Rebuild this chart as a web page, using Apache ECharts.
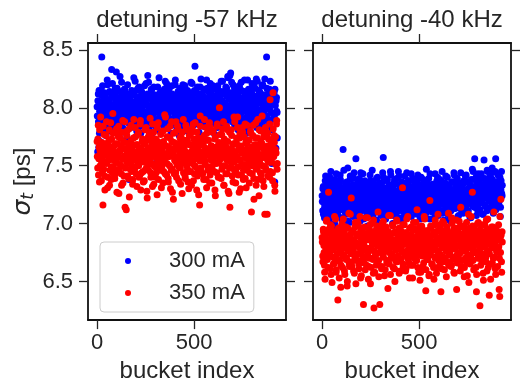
<!DOCTYPE html>
<html><head><meta charset="utf-8">
<script src="https://cdn.jsdelivr.net/npm/echarts@6/dist/echarts.min.js"></script>
<style>html,body{margin:0;padding:0;background:#fff}#c{width:522px;height:388px}</style>
</head><body><div id="c"></div>
<script>
const buckets = [0,3,6,9,12,15,18,21,24,27,30,33,36,39,42,45,48,51,54,57,60,63,66,69,72,75,78,81,84,87,90,93,96,99,102,105,108,111,114,117,120,123,126,129,132,135,138,141,144,147,150,153,156,159,162,165,168,171,174,177,180,183,186,189,192,195,198,201,204,207,210,213,216,219,222,225,228,231,234,237,240,243,246,249,252,255,258,261,264,267,270,273,276,279,282,285,288,291,294,297,300,303,306,309,312,315,318,321,324,327,330,333,336,339,342,345,348,351,354,357,360,363,366,369,372,375,378,381,384,387,390,393,396,399,402,405,408,411,414,417,420,423,426,429,432,435,438,441,444,447,450,453,456,459,462,465,468,471,474,477,480,483,486,489,492,495,498,501,504,507,510,513,516,519,522,525,528,531,534,537,540,543,546,549,552,555,558,561,564,567,570,573,576,579,582,585,588,591,594,597,600,603,606,609,612,615,618,621,624,627,630,633,636,639,642,645,648,651,654,657,660,663,666,669,672,675,678,681,684,687,690,693,696,699,702,705,708,711,714,717,720,723,726,729,732,735,738,741,744,747,750,753,756,759,762,765,768,771,774,777,780,783,786,789,792,795,798,801,804,807,810,813,816,819,822,825,828,831,834,837,840,843,846,849,852,855,858,861,864,867,870,873,876,879,882,885,888,891,894,897,900,903,906,909,912,915,918,921,924,927];
const bucketsB = [1,4,7,10,13,16,19,22,25,28,31,34,37,40,43,46,49,52,55,58,61,64,67,70,73,76,79,82,85,88,91,94,97,100,103,106,109,112,115,118,121,124,127,130,133,136,139,142,145,148,151,154,157,160,163,166,169,172,175,178,181,184,187,190,193,196,199,202,205,208,211,214,217,220,223,226,229,232,235,238,241,244,247,250,253,256,259,262,265,268,271,274,277,280,283,286,289,292,295,298,301,304,307,310,313,316,319,322,325,328,331,334,337,340,343,346,349,352,355,358,361,364,367,370,373,376,379,382,385,388,391,394,397,400,403,406,409,412,415,418,421,424,427,430,433,436,439,442,445,448,451,454,457,460,463,466,469,472,475,478,481,484,487,490,493,496,499,502,505,508,511,514,517,520,523,526,529,532,535,538,541,544,547,550,553,556,559,562,565,568,571,574,577,580,583,586,589,592,595,598,601,604,607,610,613,616,619,622,625,628,631,634,637,640,643,646,649,652,655,658,661,664,667,670,673,676,679,682,685,688,691,694,697,700,703,706,709,712,715,718,721,724,727,730,733,736,739,742,745,748,751,754,757,760,763,766,769,772,775,778,781,784,787,790,793,796,799,802,805,808,811,814,817,820,823,826,829,832,835,838,841,844,847,850,853,856,859,862,865,868,871,874,877,880,883,886,889,892,895,898,901,904,907,910,913,916,919,922,925,928];

// detuning -57 kHz, 300 mA (buckets, bucketsB)
const sigma300Left = [8.01,7.62,8.12,7.66,7.78,7.71,7.92,8.15,8.44,7.87,
7.99,8.08,7.83,7.94,8.11,7.76,8.03,7.97,8.20,7.90,
7.85,8.06,7.99,8.13,7.81,8.33,7.96,7.88,8.09,8.02,
7.93,8.17,7.84,8.31,8.00,7.91,8.07,7.79,8.14,7.98,
7.86,8.03,8.22,7.95,8.10,7.82,7.99,8.16,7.90,8.05,
7.97,7.74,8.12,8.01,7.88,7.38,7.95,8.07,7.83,8.00,
8.11,7.92,7.98,8.26,7.86,8.04,7.93,8.15,7.80,8.08,
7.99,7.87,8.18,7.94,8.06,7.78,8.01,8.12,7.90,7.97,
8.05,7.84,8.10,7.96,8.21,7.89,8.02,8.28,7.93,7.81,
8.08,7.98,7.87,8.16,8.01,7.74,7.95,8.11,7.90,8.04,
7.52,8.09,7.83,8.00,8.18,7.96,7.87,8.06,8.13,7.79,
8.02,7.91,8.14,7.97,7.85,8.08,7.99,8.23,7.88,7.95,
8.11,7.83,8.03,7.96,8.17,7.90,8.06,7.78,8.00,8.12,
7.87,7.98,8.09,7.93,8.20,8.01,7.84,8.07,7.95,8.14,
7.99,7.76,8.05,8.11,7.89,7.97,8.16,8.02,7.83,8.08,
7.94,8.19,8.00,7.87,8.06,7.92,8.13,7.81,7.98,8.03,
8.10,7.89,7.96,8.21,7.85,8.04,7.99,8.15,8.36,7.91,
8.02,8.13,7.86,7.97,8.08,7.79,8.00,8.18,7.93,8.06,
7.88,8.11,7.99,7.84,8.16,7.95,8.03,7.90,8.24,8.07,
7.97,7.82,8.09,8.01,7.92,8.14,7.86,8.05,7.98,8.19,
7.91,8.03,7.77,8.10,7.96,8.08,7.85,8.17,8.00,7.94,
8.12,7.89,8.01,8.23,7.95,8.06,7.83,7.99,8.14,7.92,
8.04,8.18,7.87,8.10,7.97,8.26,8.01,7.91,8.28,8.08,
7.95,8.22,8.06,7.88,8.13,7.99,8.17,7.84,8.03,8.11,
7.96,8.09,7.81,8.02,8.19,7.93,8.07,7.89,8.15,8.00,
7.86,8.05,7.98,8.24,7.91,8.11,8.03,7.78,8.09,7.97,
8.16,7.90,8.04,7.99,7.85,8.12,8.21,7.94,8.06,7.88,
8.01,8.17,7.92,8.09,7.83,8.23,7.98,8.05,7.90,8.14,
7.96,8.08,7.87,8.19,8.02,7.80,8.11,7.97,8.25,7.93,
8.06,8.44,7.91,8.12,7.99,7.84,8.16,8.03,7.89,8.10,
7.52,7.81,8.07,7.95,8.13,7.36,8.02,7.65,8.09,7.96];
const sigma300LeftB = [7.93,8.06,7.88,8.15,7.97,8.02,7.84,8.11,7.95,8.19,
8.04,7.90,8.13,7.82,8.00,8.08,7.93,8.24,7.87,8.05,
7.98,8.14,7.80,8.03,7.92,8.10,8.21,7.86,8.01,7.95,
8.12,7.89,8.06,7.99,8.17,7.83,8.04,7.94,8.09,8.27,
7.91,8.02,7.85,8.13,7.97,8.07,7.79,8.16,8.00,7.92,
8.08,7.96,8.20,7.87,8.03,7.94,8.11,7.84,8.05,8.15,
7.90,8.01,7.98,8.12,7.86,8.23,7.95,8.06,7.92,8.09,
8.17,7.83,8.02,7.97,8.10,7.89,8.14,7.99,8.04,7.88,
7.96,8.19,7.91,8.07,7.82,8.03,8.12,7.94,8.22,8.00,
7.87,8.09,7.98,8.15,7.93,8.05,7.85,8.18,8.01,7.96,
8.11,7.90,8.04,7.81,8.08,7.97,8.26,7.92,8.02,8.13,
7.99,7.86,8.10,8.03,7.94,8.16,7.88,8.06,7.95,8.21,
8.01,7.93,8.14,7.84,8.07,7.98,8.11,7.90,8.19,8.04,
7.97,8.09,7.87,8.02,8.24,7.92,8.05,7.99,7.83,8.12,
8.06,7.95,8.17,7.89,8.00,8.10,7.94,8.20,7.86,8.03,
7.98,8.13,7.91,8.08,7.80,8.15,8.02,7.96,8.09,7.88,
8.04,8.22,7.93,8.01,8.11,7.85,8.07,7.97,8.14,8.00,
7.92,8.06,8.18,7.87,8.03,7.99,8.12,7.94,8.25,8.05,
7.89,8.10,7.96,8.15,7.84,8.02,8.08,7.91,8.00,8.17,
8.07,7.95,8.13,7.90,8.21,7.98,8.04,7.86,8.10,7.93,
8.01,8.16,7.88,8.05,7.97,8.11,7.83,8.19,8.03,7.92,
8.09,7.99,8.14,7.85,8.06,8.23,7.94,8.02,8.12,7.96,
8.04,7.89,8.17,8.00,8.27,7.93,8.08,7.97,8.13,8.30,
7.91,8.05,7.98,8.20,7.87,8.10,8.01,7.95,8.15,8.07,
7.99,8.12,7.84,8.03,8.18,7.92,8.06,8.22,7.96,8.09,
8.02,7.88,8.14,7.97,8.05,7.83,8.11,8.00,8.24,7.94,
8.08,7.99,8.16,7.90,8.03,8.13,7.86,8.07,7.95,8.19,
7.93,8.10,8.01,8.25,7.97,8.04,7.89,8.15,8.06,7.92,
8.12,7.98,8.07,7.85,8.20,8.02,7.94,8.11,7.90,8.05,
8.00,8.17,7.93,8.09,7.87,8.14,7.99,8.23,8.03,7.96,
7.70,8.10,7.58,8.04,7.92,8.16,7.62,8.06,7.97,7.74];

// detuning -57 kHz, 350 mA
const sigma350Left = [7.71,7.48,7.85,7.56,7.36,7.63,7.92,7.51,7.68,7.44,
7.16,7.59,7.77,7.41,7.66,7.53,7.88,7.62,7.31,7.70,
7.55,7.81,7.46,7.64,7.38,7.73,7.58,7.95,7.49,7.67,
7.42,7.61,7.79,7.53,7.27,7.69,7.57,7.84,7.45,7.62,
7.74,7.50,7.33,7.65,7.89,7.56,7.41,7.70,7.14,7.59,
7.12,7.76,7.52,7.63,7.39,7.82,7.60,7.47,7.71,7.55,
7.66,7.34,7.58,7.90,7.49,7.62,7.75,7.43,7.57,7.68,
7.52,7.79,7.40,7.61,7.86,7.29,7.64,7.54,7.73,7.45,
7.60,7.37,7.69,7.56,7.83,7.48,7.22,7.65,7.75,7.51,
7.63,7.91,7.44,7.58,7.70,7.32,7.61,7.79,7.50,7.66,
7.40,7.57,7.72,7.25,7.64,7.87,7.53,7.69,7.46,7.60,
7.78,7.49,7.62,7.35,7.71,7.56,7.94,7.43,7.60,7.67,
7.52,7.82,7.39,7.65,7.58,7.74,7.30,7.63,7.88,7.47,
7.61,7.21,7.70,7.55,7.79,7.44,7.66,7.51,7.84,7.58,
7.37,7.69,7.62,7.48,7.75,7.57,7.26,7.64,7.90,7.53,
7.67,7.41,7.60,7.81,7.50,7.72,7.36,7.59,7.45,7.68,
7.56,7.78,7.33,7.63,7.52,7.86,7.61,7.43,7.70,7.49,
7.65,7.29,7.57,7.74,7.46,7.62,7.16,7.93,7.58,7.71,
7.44,7.68,7.59,7.38,7.76,7.54,7.64,7.83,7.31,7.60,
7.72,7.49,7.62,7.87,7.42,7.58,7.67,7.35,7.79,7.55,
7.61,7.45,7.73,7.24,7.66,7.52,7.84,7.59,7.40,7.69,
8.00,7.56,7.64,7.39,7.77,7.50,7.62,7.88,7.33,7.58,
7.71,7.43,7.66,7.55,7.81,7.28,7.63,7.48,7.14,7.60,
7.53,7.76,7.41,7.68,7.57,7.92,7.46,7.62,7.35,7.70,
7.58,7.83,7.49,7.64,7.27,7.74,7.55,7.67,7.42,7.61,
7.79,7.38,7.62,7.51,7.86,7.57,7.31,7.69,7.46,7.63,
7.54,7.72,7.44,7.60,7.78,7.10,7.65,7.50,7.85,7.39,
7.63,7.56,7.74,7.33,7.68,7.48,7.90,7.59,7.24,7.66,
7.51,7.80,7.42,7.69,7.57,7.37,7.75,7.61,7.08,7.83,
7.46,7.66,7.08,7.78,7.53,7.63,7.40,8.07,7.72,7.55,
7.68,7.44,8.13,7.59,7.76,7.33,7.64,7.51,7.86,7.47];
const sigma350LeftB = [7.58,7.73,7.42,7.66,7.81,7.50,7.62,7.37,7.70,7.55,
7.84,7.47,7.64,7.29,7.59,7.76,7.52,7.68,7.40,7.61,
7.72,7.33,7.57,7.87,7.49,7.65,7.44,7.78,7.55,7.62,
7.39,7.69,7.53,7.82,7.46,7.60,7.75,7.26,7.63,7.51,
7.67,7.43,7.79,7.56,7.35,7.71,7.58,7.88,7.48,7.64,
7.54,7.80,7.41,7.66,7.57,7.23,7.70,7.52,7.85,7.45,
7.62,7.38,7.74,7.59,7.47,7.83,7.55,7.68,7.32,7.61,
7.77,7.50,7.65,7.42,7.89,7.57,7.44,7.71,7.60,7.36,
7.69,7.53,7.81,7.47,7.63,7.28,7.72,7.58,7.46,7.79,
7.56,7.66,7.40,7.74,7.52,7.86,7.61,7.34,7.67,7.49,
7.73,7.44,7.59,7.83,7.55,7.38,7.70,7.63,7.48,7.77,
7.31,7.64,7.57,7.80,7.45,7.68,7.53,7.92,7.60,7.42,
7.75,7.58,7.36,7.66,7.50,7.84,7.62,7.46,7.71,7.27,
7.59,7.78,7.43,7.65,7.54,7.88,7.40,7.69,7.56,7.81,
7.49,7.62,7.74,7.34,7.67,7.52,7.79,7.58,7.44,7.72,
7.63,7.39,7.85,7.55,7.70,7.47,7.61,7.30,7.76,7.57,
7.45,7.68,7.53,7.82,7.60,7.37,7.73,7.50,7.87,7.64,
7.56,7.79,7.41,7.66,7.25,7.71,7.54,7.84,7.48,7.62,
7.74,7.43,7.69,7.57,7.90,7.51,7.65,7.38,7.78,7.59,
7.46,7.72,7.61,7.35,7.83,7.55,7.67,7.49,7.63,7.80,
7.52,7.64,7.29,7.75,7.58,7.44,7.86,7.61,7.53,7.70,
7.40,7.77,7.56,7.68,7.47,7.82,7.59,7.33,7.73,7.62,
7.50,7.66,7.84,7.43,7.71,7.57,7.26,7.79,7.55,7.64,
7.81,7.48,7.63,7.36,7.69,7.53,7.88,7.60,7.45,7.74,
7.58,7.92,7.42,7.67,7.55,7.78,7.30,7.65,7.51,7.83,
7.62,7.46,7.75,7.57,7.39,7.70,7.64,7.85,7.49,7.59,
7.72,7.35,7.61,7.80,7.54,7.66,7.43,7.76,7.58,7.21,
7.68,7.52,7.87,7.47,7.63,7.74,7.38,7.60,7.81,7.55,
7.44,7.71,7.57,7.93,7.50,7.65,7.32,7.78,7.62,7.48,
7.79,7.56,7.67,7.41,7.73,7.59,7.86,7.45,7.64,7.53,
7.66,7.37,7.82,7.58,7.70,7.28,7.75,7.61,7.89,7.52];

// detuning -40 kHz, 300 mA
const sigma300Right = [7.24,7.11,7.32,7.18,7.05,7.27,7.41,7.15,7.22,7.09,
7.36,7.19,7.02,7.28,7.14,7.45,7.21,7.08,7.31,7.17,
7.25,6.97,7.38,7.16,7.23,7.10,7.33,7.20,7.06,7.29,
7.13,7.42,7.19,7.26,7.03,7.31,7.64,7.17,7.24,7.12,
7.35,7.21,7.08,7.29,7.48,7.15,7.23,7.01,7.38,7.19,
7.27,7.14,7.33,7.06,7.20,7.44,7.12,7.28,7.56,7.18,
7.09,7.30,7.23,7.16,7.39,7.02,7.25,7.34,7.11,7.21,
7.43,7.17,7.28,7.05,7.22,7.36,7.13,7.27,6.98,7.31,
7.19,7.26,7.10,7.37,7.24,7.15,7.46,7.20,7.08,7.29,
7.14,7.32,7.21,7.03,7.27,7.40,7.16,7.23,7.11,7.35,
7.22,7.07,7.29,7.18,7.44,7.57,7.13,7.26,7.20,7.04,
7.31,7.17,7.38,7.09,7.24,7.15,7.33,7.22,7.42,7.12,
7.26,7.00,7.19,7.35,7.14,7.28,7.21,7.08,7.39,7.17,
7.23,7.45,7.11,7.29,7.16,7.34,7.05,7.25,7.19,7.30,
7.12,7.27,7.41,7.18,7.06,7.32,7.22,7.15,7.37,7.09,
7.28,7.20,7.13,7.43,7.24,6.82,7.31,7.17,7.26,7.36,
7.14,7.29,7.21,7.08,7.38,7.19,7.25,7.11,7.33,7.16,
7.40,7.22,7.06,7.27,7.18,7.35,7.12,7.30,7.21,7.47,
7.10,7.26,7.17,7.39,7.23,7.04,7.32,7.16,7.28,7.13,
7.34,7.19,7.25,7.09,7.43,7.21,7.14,7.37,7.20,7.07,
7.29,7.16,7.38,7.24,7.11,7.31,7.45,7.18,7.26,7.03,
7.22,7.35,7.13,7.28,7.19,7.40,7.08,7.24,7.33,7.15,
7.27,7.02,7.20,7.36,7.14,7.29,7.22,7.42,6.88,7.31,
7.18,7.25,7.39,7.06,7.23,7.16,7.33,7.20,7.44,7.12,
7.30,7.21,7.09,7.35,7.24,7.17,7.41,7.13,7.27,7.19,
7.36,7.11,7.26,7.20,7.05,7.32,7.18,7.28,7.47,7.15,
7.23,7.38,7.56,7.14,7.29,7.07,7.34,7.21,7.43,7.17,
7.30,7.12,7.25,7.40,7.19,7.33,7.08,7.27,7.55,7.22,
7.16,7.37,7.24,7.11,7.45,7.29,7.20,7.34,7.13,7.41,
7.26,7.18,7.48,7.31,7.09,7.36,7.23,7.45,7.56,7.20,
7.33,7.14,7.42,7.27,7.19,7.38,7.06,7.29,7.45,7.24];
const sigma300RightB = [7.19,7.30,7.08,7.25,7.14,7.37,7.22,7.03,7.28,7.16,
7.33,7.11,7.24,7.40,7.18,7.06,7.29,7.21,7.35,7.13,
7.26,7.00,7.31,7.17,7.43,7.23,7.09,7.27,7.15,7.34,
7.20,7.38,7.12,7.25,7.05,7.30,7.18,7.46,7.22,7.10,
7.28,7.15,7.36,7.21,7.02,7.32,7.19,7.26,7.41,7.13,
7.24,7.08,7.30,7.17,7.39,7.23,7.11,7.33,7.20,7.27,
7.14,7.35,7.06,7.22,7.29,7.18,7.44,7.25,7.12,7.31,
7.21,7.04,7.27,7.37,7.16,7.32,7.23,7.09,7.28,7.19,
7.34,7.14,7.42,7.24,7.07,7.30,7.20,7.36,7.15,7.26,
7.11,7.29,7.22,7.39,7.17,7.33,7.01,7.25,7.19,7.31,
7.27,7.13,7.35,7.21,7.09,7.40,7.23,7.16,7.30,7.05,
7.24,7.37,7.18,7.28,7.12,7.33,7.22,7.45,7.15,7.26,
7.20,7.32,7.07,7.29,7.38,7.17,7.25,7.10,7.34,7.21,
7.14,7.28,7.41,7.19,7.31,7.03,7.24,7.36,7.16,7.27,
7.33,7.09,7.22,7.30,7.18,7.44,7.13,7.26,7.20,7.37,
7.25,7.15,7.32,7.06,7.28,7.21,7.39,7.17,7.29,7.11,
7.23,7.35,7.19,7.27,7.42,7.12,7.31,7.22,7.04,7.26,
7.18,7.30,7.14,7.38,7.24,7.20,7.33,7.08,7.27,7.16,
7.36,7.22,7.29,7.13,7.25,7.43,7.17,7.31,7.21,7.10,
7.28,7.19,7.34,7.23,7.06,7.30,7.15,7.27,7.40,7.20,
7.12,7.33,7.24,7.18,7.37,7.26,7.09,7.29,7.21,7.35,
7.16,7.28,7.41,7.22,7.14,7.32,7.25,7.03,7.30,7.19,
7.27,7.11,7.36,7.23,7.29,7.17,7.44,7.21,7.13,7.34,
7.24,7.39,7.15,7.28,7.07,7.31,7.22,7.35,7.18,7.26,
7.33,7.20,7.12,7.37,7.25,7.29,7.16,7.42,7.23,7.10,
7.30,7.17,7.26,7.34,7.21,7.05,7.38,7.24,7.28,7.45,
7.19,7.32,7.14,7.27,7.40,7.22,7.35,7.11,7.29,7.24,
7.36,7.18,7.31,7.43,7.20,7.27,7.08,7.33,7.25,7.39,
7.15,7.30,7.22,7.46,7.28,7.13,7.35,7.26,7.41,7.19,
7.32,7.24,7.38,7.16,7.45,7.29,7.21,7.34,7.12,7.36,
7.27,7.43,7.18,7.31,7.23,7.40,7.14,7.37,7.26,7.33];

// detuning -40 kHz, 350 mA
const sigma350Right = [6.88,6.72,6.95,6.81,6.64,6.52,6.90,6.77,7.03,6.69,
6.84,7.27,6.75,6.92,6.61,6.80,6.98,6.49,6.86,6.71,
6.93,6.66,6.79,7.04,6.58,6.87,6.74,6.34,6.96,6.83,
6.68,6.89,6.45,6.77,7.00,6.62,6.85,6.73,6.94,6.56,
6.81,6.97,6.70,6.46,6.88,6.76,7.09,6.63,6.84,6.91,
7.22,6.67,6.79,6.94,6.59,6.86,6.72,7.01,6.48,6.83,
6.90,6.74,6.99,6.65,6.81,7.06,6.53,6.87,6.76,6.93,
6.69,6.30,6.84,6.97,6.60,6.79,6.91,6.71,7.05,6.86,
6.63,6.95,6.78,6.48,6.89,7.00,6.70,6.83,6.57,6.27,
6.92,6.75,6.87,6.64,6.98,6.81,7.10,6.68,6.85,6.30,
6.79,6.94,6.61,6.88,6.73,7.02,6.84,6.55,6.91,6.77,
6.97,6.66,6.82,6.44,6.93,6.75,6.89,7.07,6.70,6.86,
6.74,6.99,6.62,6.85,6.80,6.50,6.92,6.77,7.03,6.67,
6.88,6.71,6.96,6.83,6.59,6.94,6.78,6.90,7.31,6.65,
6.82,6.99,6.73,6.87,6.61,6.92,6.76,7.06,6.69,6.84,
6.53,6.90,6.79,6.97,6.72,6.86,6.64,7.01,6.81,6.74,
6.95,6.68,6.83,7.12,6.77,6.89,6.58,6.93,6.51,6.80,
6.76,6.98,6.85,6.63,6.91,6.72,7.04,6.82,6.42,6.87,
6.69,6.94,6.78,6.88,6.56,7.20,6.73,6.96,6.84,6.65,
6.90,6.77,6.52,6.99,6.81,6.70,6.93,6.86,6.62,7.08,
6.83,6.74,6.96,6.66,6.41,6.89,6.79,7.02,6.71,6.88,
6.60,6.94,6.81,6.76,6.97,6.67,6.85,7.09,6.73,6.91,
6.78,6.89,6.64,7.00,6.83,6.71,6.95,6.57,6.86,6.80,
7.03,6.43,6.92,6.75,6.88,6.69,6.97,6.82,7.14,6.63,
6.87,6.76,6.98,6.81,6.54,6.93,6.70,6.85,7.01,6.66,
6.90,6.79,6.49,6.96,6.84,6.72,7.06,6.88,7.27,6.68,
6.81,6.97,6.75,6.91,6.62,6.41,6.86,7.00,6.73,6.89,
6.77,6.29,6.94,6.83,6.68,6.99,6.80,6.51,6.92,6.74,
6.88,6.71,7.03,6.59,6.84,6.95,6.76,6.38,6.90,6.82,
6.65,6.97,6.79,6.86,6.70,7.10,6.83,6.94,6.56,6.88,
6.75,6.91,6.80,6.99,6.43,6.37,6.86,7.21,6.67,6.93];
const sigma350RightB = [6.84,6.67,6.93,6.75,6.58,6.88,6.79,7.02,6.70,6.86,
6.62,6.95,6.81,6.73,6.99,6.56,6.87,6.77,6.91,6.65,
6.83,7.06,6.71,6.89,6.60,6.80,6.94,6.68,6.85,6.53,
6.92,6.76,6.64,6.98,6.82,6.72,7.04,6.87,6.59,6.79,
6.90,6.69,6.84,6.50,6.96,6.78,6.66,6.88,7.08,6.74,
6.81,6.63,6.93,6.77,6.86,6.57,6.97,6.70,6.83,6.91,
6.68,7.01,6.80,6.61,6.89,6.75,6.94,6.55,6.85,6.72,
6.96,6.82,6.66,6.90,6.78,7.05,6.64,6.87,6.74,6.52,
6.88,6.70,6.99,6.79,6.62,6.93,6.83,6.69,7.03,6.76,
6.58,6.86,6.73,6.95,6.81,6.67,6.90,6.54,6.84,6.97,
6.75,6.89,6.63,7.00,6.79,6.71,6.92,6.85,6.60,6.82,
6.94,6.68,6.87,6.77,7.07,6.65,6.83,6.56,6.91,6.74,
6.80,6.98,6.70,6.86,6.61,6.93,6.78,6.67,7.02,6.84,
6.72,6.89,6.57,6.95,6.81,6.69,6.88,6.76,6.99,6.63,
6.85,6.74,6.92,6.59,6.83,7.04,6.71,6.87,6.78,6.66,
6.96,6.80,6.64,6.90,6.75,6.53,6.94,6.82,6.70,6.88,
6.77,7.01,6.68,6.85,6.62,6.91,6.79,6.73,6.97,6.58,
6.86,6.72,6.95,6.81,6.66,7.06,6.76,6.89,6.60,6.84,
6.93,6.69,6.80,6.55,6.87,6.74,6.98,6.83,6.65,6.90,
6.78,6.62,6.92,6.71,7.03,6.85,6.57,6.88,6.76,6.94,
6.68,6.82,6.99,6.73,6.86,6.61,6.91,6.79,6.67,7.00,
6.84,6.70,6.89,6.54,6.95,6.77,6.83,6.64,6.92,6.75,
6.87,6.63,7.05,6.80,6.69,6.90,6.58,6.85,6.78,6.96,
6.72,6.88,6.66,6.93,6.81,7.02,6.74,6.59,6.86,6.79,
6.91,6.68,6.84,6.97,6.62,6.89,6.76,6.94,6.71,6.55,
6.83,7.08,6.73,6.88,6.65,6.92,6.80,6.69,6.98,6.77,
6.60,6.86,6.75,6.93,6.82,6.56,6.90,6.70,7.01,6.84,
6.78,6.95,6.64,6.87,6.73,6.91,6.57,6.85,6.68,6.99,
6.81,6.67,6.94,6.76,7.04,6.62,6.89,6.74,6.83,6.52,
6.92,6.79,6.66,6.97,6.85,6.71,6.88,6.61,6.95,6.77,
6.86,6.63,6.93,6.80,6.70,7.06,6.75,6.90,6.58,6.84];

const panelTitles = ['detuning -57 kHz', 'detuning -40 kHz'];
const seriesNames = ['300 mA', '350 mA'];
const xTicks = [0, 500];
const yTicks = [6.5, 7.0, 7.5, 8.0, 8.5];

const FONT = '"Liberation Sans", Arial, Helvetica, sans-serif';
const TXT = '#262626';
const X_MIN = -47, X_MAX = 973, Y_MIN = 6.166, Y_MAX = 8.56;
const boxLine = { color: '#111', width: 1.8 };
const tickLine = { color: '#262626', width: 1.3 };

function pairs(ys, xs) {
  const out = [];
  for (let i = 0; i < ys.length && i < xs.length; i++) out.push([xs[i], ys[i]]);
  return out;
}

const grids = [
  { left: 88, top: 43, width: 198, height: 280 },
  { left: 313, top: 43, width: 198, height: 280 }
];

const xAxes = [], yAxes = [];
[0, 1].forEach(g => {
  xAxes.push({
    gridIndex: g, type: 'value', min: X_MIN, max: X_MAX, position: 'bottom',
    axisLine: { show: true, onZero: false, lineStyle: boxLine },
    axisTick: { show: true, length: 9, customValues: xTicks, lineStyle: tickLine },
    axisLabel: { show: true, customValues: xTicks, fontSize: 22, color: TXT, fontFamily: FONT, margin: 12 },
    splitLine: { show: false },
    name: 'bucket index', nameLocation: 'middle', nameGap: 36,
    nameTextStyle: { fontSize: 24, color: TXT, fontFamily: FONT, verticalAlign: 'top' }
  });
  xAxes.push({
    gridIndex: g, type: 'value', min: X_MIN, max: X_MAX, position: 'top',
    axisLine: { show: true, onZero: false, lineStyle: boxLine },
    axisTick: { show: true, length: 9, customValues: xTicks, lineStyle: tickLine },
    axisLabel: { show: false },
    splitLine: { show: false },
    name: panelTitles[g], nameLocation: 'middle', nameGap: 11,
    nameTextStyle: { fontSize: 24, color: TXT, fontFamily: FONT, verticalAlign: 'bottom' }
  });
  const leftY = {
    gridIndex: g, type: 'value', min: Y_MIN, max: Y_MAX, position: 'left',
    axisLine: { show: true, onZero: false, lineStyle: boxLine },
    axisTick: { show: true, length: 9, customValues: yTicks, lineStyle: tickLine },
    axisLabel: { show: g === 0, customValues: yTicks, fontSize: 22, color: TXT, fontFamily: FONT, margin: 15,
      formatter: v => Number(v).toFixed(1) },
    splitLine: { show: false }
  };
  if (g === 0) {
    leftY.name = '{s|σ}{t|t}{p| [ps]}';
    leftY.nameLocation = 'middle';
    leftY.nameRotate = 90;
    leftY.nameGap = 51;
    leftY.nameTextStyle = {
      color: TXT, fontFamily: FONT, fontSize: 24,
      rich: {
        s: { fontSize: 25, fontStyle: 'italic', fontFamily: '"DejaVu Sans", sans-serif', color: TXT, lineHeight: 28, verticalAlign: 'middle' },
        t: { fontSize: 17, fontStyle: 'italic', fontFamily: '"DejaVu Sans", sans-serif', color: TXT, lineHeight: 18, verticalAlign: 'bottom' },
        p: { fontSize: 24, fontFamily: FONT, color: TXT, lineHeight: 28, verticalAlign: 'middle' }
      }
    };
  }
  yAxes.push(leftY);
  yAxes.push({
    gridIndex: g, type: 'value', min: Y_MIN, max: Y_MAX, position: 'right',
    axisLine: { show: true, onZero: false, lineStyle: boxLine },
    axisTick: { show: true, length: 9, customValues: yTicks, lineStyle: tickLine },
    axisLabel: { show: false },
    splitLine: { show: false }
  });
});

function sc(name, xi, yi, ysA, ysB, color) {
  return {
    type: 'scatter', name, xAxisIndex: xi, yAxisIndex: yi,
    data: pairs(ysA, buckets).concat(pairs(ysB, bucketsB)),
    symbol: 'circle', symbolSize: 7, large: false,
    itemStyle: { color, opacity: 1 },
    emphasis: { disabled: true }, silent: true, animation: false
  };
}

const chart = echarts.init(document.getElementById('c'), null, { renderer: 'canvas' });
chart.setOption({
  animation: false,
  backgroundColor: '#fff',
  grid: grids,
  xAxis: xAxes,
  yAxis: yAxes,
  legend: {
    show: true, orient: 'vertical', left: 100, top: 242,
    padding: [8, 9, 8, 25], itemWidth: 12, itemHeight: 6, itemGap: 10,
    icon: 'circle', selectedMode: false,
    borderColor: '#cccccc', borderWidth: 1, borderRadius: 4,
    backgroundColor: 'rgba(255,255,255,0.8)',
    textStyle: { fontSize: 22, color: TXT, fontFamily: FONT, lineHeight: 22, padding: [0, 0, 0, 30] },
    data: seriesNames
  },
  series: [
    sc(seriesNames[0], 0, 0, sigma300Left, sigma300LeftB, '#0000ff'),
    sc(seriesNames[1], 0, 0, sigma350Left, sigma350LeftB, '#ff0000'),
    sc(seriesNames[0], 2, 2, sigma300Right, sigma300RightB, '#0000ff'),
    sc(seriesNames[1], 2, 2, sigma350Right, sigma350RightB, '#ff0000')
  ]
});
</script>
</body></html>
